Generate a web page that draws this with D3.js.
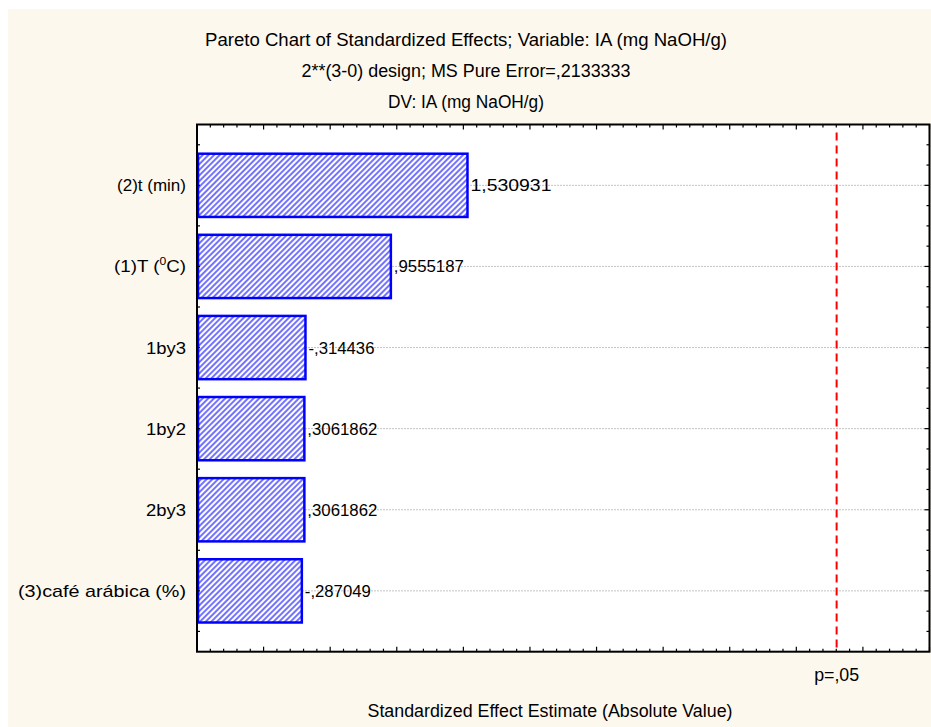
<html>
<head>
    <meta charset="utf-8">
    <title>Pareto Chart of Standardized Effects</title>
    <script src="https://d3js.org/d3.v7.min.js"></script>
    <style>
        body { margin: 0; background: #ffffff; overflow: hidden; }
        svg { display: block; }
        text { font-family: "Liberation Sans", Arial, sans-serif; fill: #000; }
    </style>
</head>
<body>
<script>

// data
var categories = ["(2)t (min)", "(1)T (0C)", "1by3", "1by2", "2by3", "(3)café arábica (%)"];
var effects = [1.530931, 0.9555187, -0.314436, 0.3061862, 0.3061862, -0.287049];
var effectLabels = ["1,530931", ",9555187", "-,314436", ",3061862", ",3061862", "-,287049"];
var pCritical = 4.302653;
var pLabel = "p=,05";
var titleLines = ["Pareto Chart of Standardized Effects; Variable: IA (mg NaOH/g)",
                  "2**(3-0) design; MS Pure Error=,2133333",
                  "DV: IA (mg NaOH/g)"];
var xTitle = "Standardized Effect Estimate (Absolute Value)";

// measured text widths in the reference (the original font is wider)
var titleWidths = [522, 329, 156];
var valueWidths = [81, 70, 66, 70, 70, 66];
var catWidths = [null, 72, 40, 40, 40, 168];

var width = 931;
var height = 727;

var svg = d3.select("body").append("svg")
            .attr("width", width)
            .attr("height", height);

// cream background with a thin white strip top / left
svg.append("rect").attr("x", 8).attr("y", 9)
   .attr("width", width - 8).attr("height", height - 9)
   .attr("fill", "#fdf8ee");

var pLeft = 197, pRight = 929.5, pTop = 124.5, pBottom = 651.7;

var x = d3.scaleLinear().domain([-0.5, 5.0]).range([pLeft, pRight]);
var y = d3.scaleLinear().domain([0.25, 6.75]).range([pTop, pBottom]);

// hatch pattern for bars
var defs = svg.append("defs");
var pat = defs.append("pattern")
    .attr("id", "hatch")
    .attr("patternUnits", "userSpaceOnUse")
    .attr("width", 4).attr("height", 4)
    .attr("patternTransform", "rotate(45)");
pat.append("rect").attr("width", 4).attr("height", 4).attr("fill", "#ffffff");
pat.append("line").attr("x1", 1).attr("y1", 0).attr("x2", 1).attr("y2", 4)
   .attr("stroke", "#5a5aff").attr("stroke-width", 1.7);

// plot area
svg.append("rect").attr("x", pLeft).attr("y", pTop)
   .attr("width", pRight - pLeft).attr("height", pBottom - pTop)
   .attr("fill", "#ffffff");

// dotted grid lines at each effect
svg.selectAll("line.grid")
   .data(categories)
   .enter().append("line")
   .attr("class", "grid")
   .attr("x1", pLeft).attr("x2", pRight)
   .attr("y1", function(d, i) { return y(i + 1); })
   .attr("y2", function(d, i) { return y(i + 1); })
   .attr("stroke", "#c4c4c4").attr("stroke-width", 1)
   .attr("stroke-dasharray", "2,1");

// bars (absolute value, drawn from axis minimum)
var barH = y(1.39) - y(1);
svg.selectAll("rect.bar")
   .data(effects)
   .enter().append("rect")
   .attr("class", "bar")
   .attr("x", x(-0.5) + 1)
   .attr("y", function(d, i) { return y(i + 1) - barH; })
   .attr("width", function(d) { return x(Math.abs(d)) - x(-0.5) - 1; })
   .attr("height", barH * 2)
   .attr("fill", "url(#hatch)")
   .attr("stroke", "#0000ff").attr("stroke-width", 2.5);

// value labels
svg.selectAll("text.val")
   .data(effects)
   .enter().append("text")
   .attr("class", "val")
   .attr("x", function(d) { return x(Math.abs(d)) + 3; })
   .attr("y", function(d, i) { return y(i + 1) + 6; })
   .attr("font-size", 17)
   .attr("textLength", function(d, i) { return valueWidths[i]; })
   .attr("lengthAdjust", "spacingAndGlyphs")
   .text(function(d, i) { return effectLabels[i]; });

// critical value line
svg.append("line")
   .attr("x1", x(pCritical)).attr("x2", x(pCritical))
   .attr("y1", pTop + 8).attr("y2", pBottom)
   .attr("stroke", "#ff0000").attr("stroke-width", 2)
   .attr("stroke-dasharray", "8,5");

// ticks: bottom / top
var minor = d3.range(-0.5, 5.0001, 0.1);
minor.forEach(function(v) {
    var isMajor = Math.abs(v * 2 - Math.round(v * 2)) < 1e-6;
    var len = isMajor ? 5 : 3;
    svg.append("line").attr("x1", x(v)).attr("x2", x(v))
       .attr("y1", pBottom).attr("y2", pBottom - len)
       .attr("stroke", "#000").attr("stroke-width", 1.2);
    svg.append("line").attr("x1", x(v)).attr("x2", x(v))
       .attr("y1", pTop).attr("y2", pTop + len)
       .attr("stroke", "#000").attr("stroke-width", 1.2);
});

// ticks: left / right
d3.range(0.5, 6.6, 0.5).forEach(function(v) {
    svg.append("line").attr("x1", pLeft).attr("x2", pLeft + 3)
       .attr("y1", y(v)).attr("y2", y(v))
       .attr("stroke", "#000").attr("stroke-width", 1.2);
});
d3.range(0.5, 6.6, 0.25).forEach(function(v) {
    var len = Math.abs(v - Math.round(v)) < 1e-6 ? 5 : 3;
    svg.append("line").attr("x1", pRight).attr("x2", pRight - len)
       .attr("y1", y(v)).attr("y2", y(v))
       .attr("stroke", "#000").attr("stroke-width", 1.2);
});

// frame
svg.append("rect").attr("x", pLeft).attr("y", pTop)
   .attr("width", pRight - pLeft).attr("height", pBottom - pTop)
   .attr("fill", "none").attr("stroke", "#000").attr("stroke-width", 2);

// category labels
var catText = svg.selectAll("text.cat")
   .data(categories)
   .enter().append("text")
   .attr("class", "cat")
   .attr("x", 186)
   .attr("y", function(d, i) { return y(i + 1) + 6; })
   .attr("text-anchor", "end")
   .attr("font-size", 17)
   .attr("textLength", function(d, i) { return catWidths[i]; })
   .attr("lengthAdjust", function(d, i) { return catWidths[i] ? "spacingAndGlyphs" : null; });
catText.each(function(d) {
    var t = d3.select(this);
    if (d == "(1)T (0C)") {
        t.append("tspan").text("(1)T (");
        t.append("tspan").attr("font-size", 11).attr("dy", -7).text("0");
        t.append("tspan").attr("dy", 7).text("C)");
    } else {
        t.text(d);
    }
});

// titles
svg.selectAll("text.title")
   .data(titleLines)
   .enter().append("text")
   .attr("class", "title")
   .attr("x", 466)
   .attr("y", function(d, i) { return 46 + i * 31; })
   .attr("text-anchor", "middle")
   .attr("font-size", 17.5)
   .attr("textLength", function(d, i) { return titleWidths[i]; })
   .attr("lengthAdjust", "spacingAndGlyphs")
   .text(function(d) { return d; });

svg.append("text")
   .attr("x", x(pCritical)).attr("y", 681)
   .attr("text-anchor", "middle").attr("font-size", 17.5)
   .attr("textLength", 45).attr("lengthAdjust", "spacingAndGlyphs")
   .text(pLabel);

svg.append("text")
   .attr("x", 550).attr("y", 717)
   .attr("text-anchor", "middle").attr("font-size", 17.5)
   .attr("textLength", 365).attr("lengthAdjust", "spacingAndGlyphs")
   .text(xTitle);

</script>
</body>
</html>
